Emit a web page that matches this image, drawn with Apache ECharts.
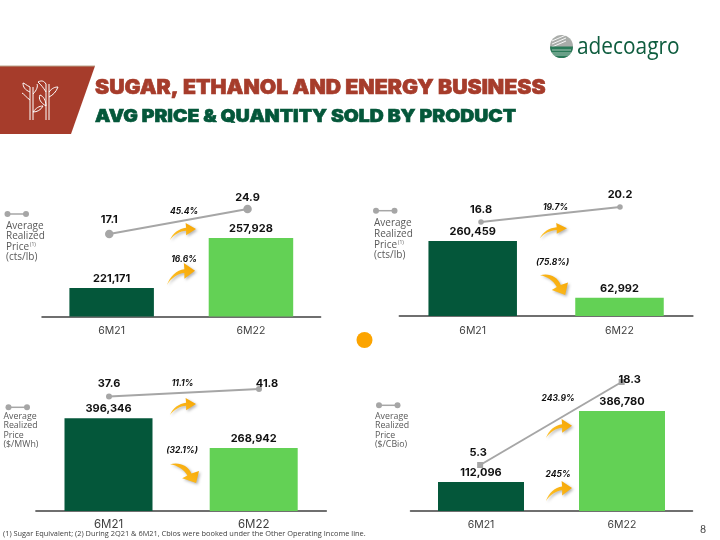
<!DOCTYPE html>
<html><head><meta charset="utf-8">
<style>html,body{margin:0;padding:0;background:#fff}#c{width:720px;height:540px}</style>
<script src="https://cdn.jsdelivr.net/npm/echarts@6/dist/echarts.min.js"></script>
</head><body><div id="c"></div>
<script>
const periods = ['6M21', '6M22'];
const sugarQty = [221171, 257928];
const ethanolQty = [260459, 62992];
const energyQty = [396346, 268942];
const cbioQty = [112096, 386780];
const sugarPrice = [17.1, 24.9];
const ethanolPrice = [16.8, 20.2];
const energyPrice = [37.6, 41.8];
const cbioPrice = [5.3, 18.3];

const DARK = '#04573a', LIGHT = '#63d155', GREY = '#a6a6a6', F = 'Inter, "Noto Sans", sans-serif';
const panels = [
 {qty:sugarQty, price:sugarPrice, left:42, width:278.6, bottom:316.5, bw:84.5, qMin:200215, pxPer:735,
  lLeft:40.1, lWidth:276.6, lTop:209, lH:25, sym:'circle', ss:8.5, off:[[0,-2],[0,1]], lblSize:11},
 {qty:ethanolQty, price:ethanolPrice, left:399.3, width:293.6, bottom:316, bw:88.5, qMin:0, pxPer:3473,
  lLeft:411.5, lWidth:278, lTop:207, lH:15, sym:'circle', ss:5.5, off:[[0,-1],[0,-1]], lblSize:11},
 {qty:energyQty, price:energyPrice, left:35.9, width:290.4, bottom:511, bw:88, qMin:0, pxPer:4275,
  lLeft:34, lWidth:300, lTop:389, lH:7.5, sym:'circle', ss:6, off:[[0,-1],[8,6]], lblSize:11},
 {qty:cbioQty, price:cbioPrice, left:410.5, width:282, bottom:511, bw:86, qMin:0, pxPer:3868,
  lLeft:409.4, lWidth:283, lTop:382, lH:83, sym:'rect', ss:6, off:[[-2,-1],[8,9]], lblSize:11}
];

const grid=[], xAxis=[], yAxis=[], series=[];
panels.forEach((p,i)=>{
  const h = Math.max(...p.qty.map(v=>(v-p.qMin)/p.pxPer)) + 10;
  grid.push({left:p.left, width:p.width, top:p.bottom-h, height:h});
  xAxis.push({type:'category', gridIndex:2*i, data:periods, axisTick:{show:false},
    axisLine:{lineStyle:{color:'#404040', width:1.5}},
    axisLabel:{color:'#404040', fontFamily:F, fontSize:i==2?11.5:10.5, margin:i<2?9:8}});
  yAxis.push({type:'value', gridIndex:2*i, min:p.qMin, max:p.qMin+h*p.pxPer, show:false, splitLine:{show:false}});
  series.push({type:'bar', xAxisIndex:2*i, yAxisIndex:2*i, barWidth:p.bw, z:2,
    data:[{value:p.qty[0], itemStyle:{color:DARK}},{value:p.qty[1], itemStyle:{color:LIGHT}}],
    label:{show:true, position:'top', distance:4, color:'#111', fontFamily:F, fontWeight:700, fontSize:p.lblSize,
      formatter:o=>o.value.toLocaleString('en-US')}});
  grid.push({left:p.lLeft, width:p.lWidth, top:p.lTop, height:p.lH});
  xAxis.push({type:'category', gridIndex:2*i+1, data:periods, show:false});
  yAxis.push({type:'value', gridIndex:2*i+1, min:p.price[0], max:p.price[1], show:false, splitLine:{show:false}});
  series.push({type:'line', xAxisIndex:2*i+1, yAxisIndex:2*i+1, clip:false, z:5, symbol:p.sym, symbolSize:p.ss,
    lineStyle:{color:GREY,width:2}, itemStyle:{color:GREY},
    data:p.price.map((v,k)=>({value:v, label:{show:true, position:'top', distance:3, offset:p.off[k],
      color:'#111', fontFamily:F, fontWeight:700, fontSize:11, formatter:String(v)}}))});
});

const G=echarts.graphic;
G.registerShape('upArrow',G.extendPath('M0 100 C10 60 35 32 62 28 L60 0 L100 35 L62 72 L62 46 C40 48 15 68 0 100Z',{}));
G.registerShape('downArrow',G.extendPath('M0 6 C30 -6 62 10 74 52 L100 40 L90 100 L42 76 L60 62 C48 30 25 12 0 6Z',{}));
G.registerShape('bamboo',G.extendPath([
 'M30 87 L30 120','M33 87 L33 120','M46 84 L46 120','M49 84 L49 120',
 'M30 87 C26 85 24 83 23 83 C23 87 25 90 30 92','M33 94 C37 90 38 86 37 84','M30 100 C26 97 24 94 22 93',
 'M46 84 C44 81 42 80 38 82 C41 85 43 87 46 92','M49 92 C52 88 55 87 58 87 C56 92 53 95 49 97',
 'M46 106 C46 100 43 96 40 95 C38 99 41 103 46 106','M33 112 C36 108 39 106 43 106 C41 110 37 112 33 112'].join(' '),{}));

const g=[];
const txt=(x,y,t,o,extra)=>g.push(Object.assign({type:'text',x,y,z:20,style:Object.assign({text:t,fontFamily:F,textVerticalAlign:'middle'},o)},extra||{}));
const arrow=(type,x,y,w,h)=>g.push({type,z:15,x,y,scaleX:w/100,scaleY:h/100,
  style:{fill:{type:'linear',x:0,y:1,x2:1,y2:0,colorStops:[{offset:0,color:'#ffc52e'},{offset:1,color:'#f5a300'}]},
  shadowColor:'rgba(90,90,90,0.45)',shadowBlur:3,shadowOffsetX:1.5,shadowOffsetY:1.5}});

// banner
g.push({type:'polygon',shape:{points:[[0,66],[95,66],[71,134],[0,134]]},style:{fill:'#a63c2b'}});
g.push({type:'line',shape:{x1:0,y1:66,x2:95,y2:66},style:{stroke:'#b9a58c',lineWidth:1}});
g.push({type:'bamboo',z:3,style:{fill:null,stroke:'#fff',lineWidth:1}});
// titles
const shadow={shadowColor:'rgba(0,0,0,0.25)',shadowBlur:1,shadowOffsetX:.5,shadowOffsetY:.5};
txt(95,88,'SUGAR, ETHANOL AND ENERGY BUSINESS',Object.assign({fill:'#a63c2b',stroke:'#a63c2b',lineWidth:.6,fontWeight:900,fontSize:19.5},shadow),{scaleX:1.09});
txt(95,117,'AVG PRICE & QUANTITY SOLD BY PRODUCT',Object.assign({fill:'#04573a',stroke:'#04573a',lineWidth:.6,fontWeight:900,fontSize:17},shadow),{scaleX:1.14});
// logo
g.push({type:'circle',z:3,shape:{cx:561.5,cy:46.5,r:11.5},style:{fill:'#a9aca9'}});
[38,41,44].forEach(y=>g.push({type:'line',z:4,shape:{x1:552,y1:y+3,x2:566,y2:y-3},style:{stroke:'#fff',lineWidth:.9}}));
g.push({type:'sector',z:4,shape:{cx:561.5,cy:46.5,r:11.5,startAngle:0,endAngle:Math.PI},style:{fill:'#2a7a58'}});
[50,53,55].forEach(y=>g.push({type:'line',z:5,shape:{x1:552,y1:y,x2:571,y2:y},style:{stroke:'#dfe9e3',lineWidth:.7}}));
txt(577,47,'adecoagro',{fill:'#0e5c3e',fontFamily:'"Open Sans", sans-serif',fontSize:23},{scaleX:.907});
// legends
const LF='"Open Sans", sans-serif';
const legend=(x,y,tx,ty,lines,lh,size)=>{
  g.push({type:'line',z:3,shape:{x1:x,y1:y,x2:x+18.5,y2:y},style:{stroke:GREY,lineWidth:1.5}});
  [x,x+18.5].forEach(c=>g.push({type:'circle',z:3,shape:{cx:c,cy:y,r:3},style:{fill:GREY}}));
  lines.forEach((t,k)=>{
    if(typeof t==='object'){ txt(tx,ty+k*lh,t.t,{fill:'#595959',fontSize:size,fontFamily:LF});
      txt(tx+t.w,ty+k*lh-2,t.mark,{fill:'#595959',fontSize:5,fontFamily:LF}); }
    else txt(tx,ty+k*lh,t,{fill:'#595959',fontSize:size,fontFamily:LF});
  });
};
legend(7.5,214,6,226,['Average','Realized',{t:'Price',w:24,mark:'(1)'},'(cts/lb)'],10.5,10);
legend(376,210.7,374,223.5,['Average','Realized',{t:'Price',w:24,mark:'(1)'},'(cts/lb)'],10.6,10);
legend(8.5,407.3,3.5,416,['Average','Realized','Price','($/MWh)'],9.6,8.8);
legend(379,405.3,375,416,['Average','Realized','Price','($/CBio)'],9.6,8.8);
// arrows
arrow('upArrow',170,223,26,17); arrow('upArrow',167,263,28,22);
arrow('upArrow',540,223,27,15); arrow('downArrow',540,274,28,21);
arrow('upArrow',170,398,26,17); arrow('downArrow',170,463,29,20);
arrow('upArrow',546,419,26,19); arrow('upArrow',546,481,26,20);
// percents
const pct=(x,y,t)=>txt(x,y,t,{fill:'#111',fontWeight:700,fontStyle:'italic',fontSize:8.5,textAlign:'center'});
pct(184,211,'45.4%');pct(184,259,'16.6%');pct(555.5,207,'19.7%');pct(552.5,262,'(75.8%)');
pct(182.5,383,'11.1%');pct(182,450,'(32.1%)');pct(558,398,'243.9%');pct(558,474,'245%');
// misc
g.push({type:'circle',z:3,shape:{cx:364.5,cy:340,r:8},style:{fill:'#fca400'}});
txt(3,534,'(1) Sugar Equivalent; (2) During 2Q21 & 6M21, Cbios were booked under the Other Operating Income line.',
  {fill:'#404040',fontSize:7.4,fontFamily:LF});
txt(703,530,'8',{fill:'#404040',fontSize:10,textAlign:'center'});

const chart=echarts.init(document.getElementById('c'),null,{renderer:'canvas'});
chart.setOption({animation:false,backgroundColor:'#fff',grid,xAxis,yAxis,series,graphic:{elements:g}});
</script></body></html>
